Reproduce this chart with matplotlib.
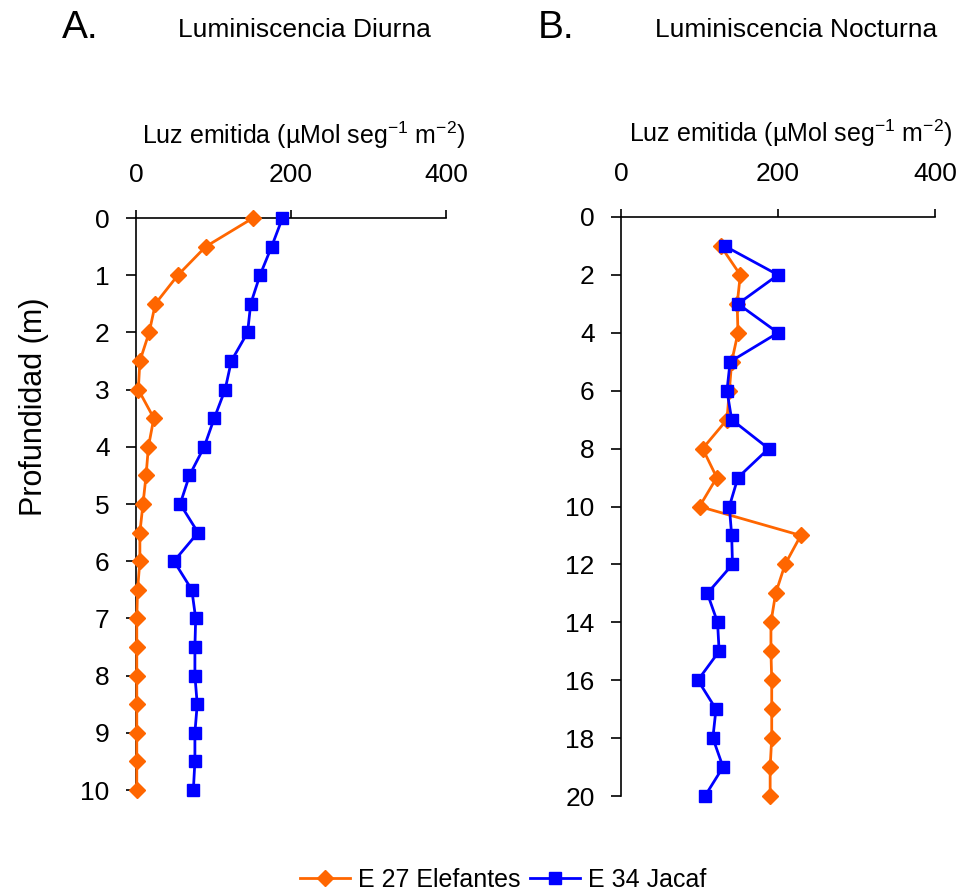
import numpy as np
import matplotlib.pyplot as plt
from matplotlib.lines import Line2D

plt.rcParams['font.family'] = ['Liberation Sans', 'DejaVu Sans']
plt.rcParams['mathtext.fontset'] = 'custom'
plt.rcParams['mathtext.rm'] = 'Liberation Sans'
plt.rcParams['mathtext.it'] = 'Liberation Sans:italic'

# panel A: depth every 0.5 m
depth_a = [0, 0.5, 1, 1.5, 2, 2.5, 3, 3.5, 4, 4.5, 5, 5.5, 6, 6.5, 7, 7.5, 8, 8.5, 9, 9.5, 10]
eleph_a = [151, 90, 54, 25, 17, 5, 3, 23, 16, 13, 9, 5, 5, 2, 1, 1, 1, 1, 1, 1, 1]
jacaf_a = [189, 175, 160, 148, 144, 123, 115, 101, 88, 69, 57, 80, 49, 72, 77, 76, 76, 79, 76, 76, 74]

# panel B: depth every 1 m
depth_b = [1, 2, 3, 4, 5, 6, 7, 8, 9, 10, 11, 12, 13, 14, 15, 16, 17, 18, 19, 20]
eleph_b = [127, 152, 148, 149, 141, 138, 135, 104, 122, 100, 229, 209, 197, 191, 191, 192, 192, 192, 190, 190]
jacaf_b = [132, 200, 149, 200, 139, 135, 141, 188, 149, 138, 141, 142, 110, 123, 125, 98, 121, 117, 130, 107]

ORANGE = '#FF6600'
BLUE = '#0000FF'
xlab = 'Luz emitida (µMol seg$^{\\mathrm{-1}}$ m$^{\\mathrm{-2}}$)'

fig = plt.figure(figsize=(9.72, 8.94), dpi=100)
ax_a = fig.add_axes([136/972, 1-790/894, 310/972, (790-218)/894])
ax_b = fig.add_axes([621/972, 1-796/894, 314/972, (796-217)/894])


def style(ax, ymax, yticks):
    ax.set_xlim(0, 400)
    ax.set_ylim(ymax, 0)
    ax.set_xticks([0, 200, 400])
    ax.set_yticks(yticks)
    ax.xaxis.tick_top()
    for s in ['right', 'bottom']:
        ax.spines[s].set_visible(False)
    for s in ['left', 'top']:
        ax.spines[s].set_linewidth(1.2)
    ax.tick_params(axis='x', direction='out', length=6, width=1.2, pad=16, labelsize=19)
    ax.tick_params(axis='y', direction='out', length=7, width=1.2, pad=12, labelsize=19)
    ax.text(0.54, 1.145, xlab, transform=ax.transAxes, ha='center', va='center', fontsize=18)


style(ax_a, 10, range(0, 11))
style(ax_b, 20, range(0, 21, 2))

kw_o = dict(color=ORANGE, lw=2, marker='D', ms=8, clip_on=False)
kw_b = dict(color=BLUE, lw=2, marker='s', ms=8.5, clip_on=False)
ax_a.plot(eleph_a, depth_a, zorder=3, **kw_o)
ax_a.plot(jacaf_a, depth_a, zorder=3, **kw_b)
ax_b.plot(eleph_b, depth_b, zorder=3, **kw_o)
ax_b.plot(jacaf_b, depth_b, zorder=4, **kw_b)

ax_a.set_ylabel('Profundidad (m)', fontsize=22)
ax_a.yaxis.set_label_coords(-0.28, 0.67)

fig.text(62/972, 1-28/894, 'A.', fontsize=28, va='center', ha='left')
fig.text(178/972, 1-30/894, 'Luminiscencia Diurna', fontsize=19, va='center', ha='left')
fig.text(538/972, 1-28/894, 'B.', fontsize=28, va='center', ha='left')
fig.text(655/972, 1-30/894, 'Luminiscencia Nocturna', fontsize=19, va='center', ha='left')

handles = [Line2D([], [], **kw_o), Line2D([], [], **kw_b)]
fig.legend(handles, ['E 27 Elefantes', 'E 34 Jacaf'], loc='center',
           bbox_to_anchor=(503/972, 1-880/894), ncol=2, frameon=False,
           fontsize=18, handlelength=2.0, handletextpad=0.3, columnspacing=0.4)

fig.savefig('out.png', dpi=100)
